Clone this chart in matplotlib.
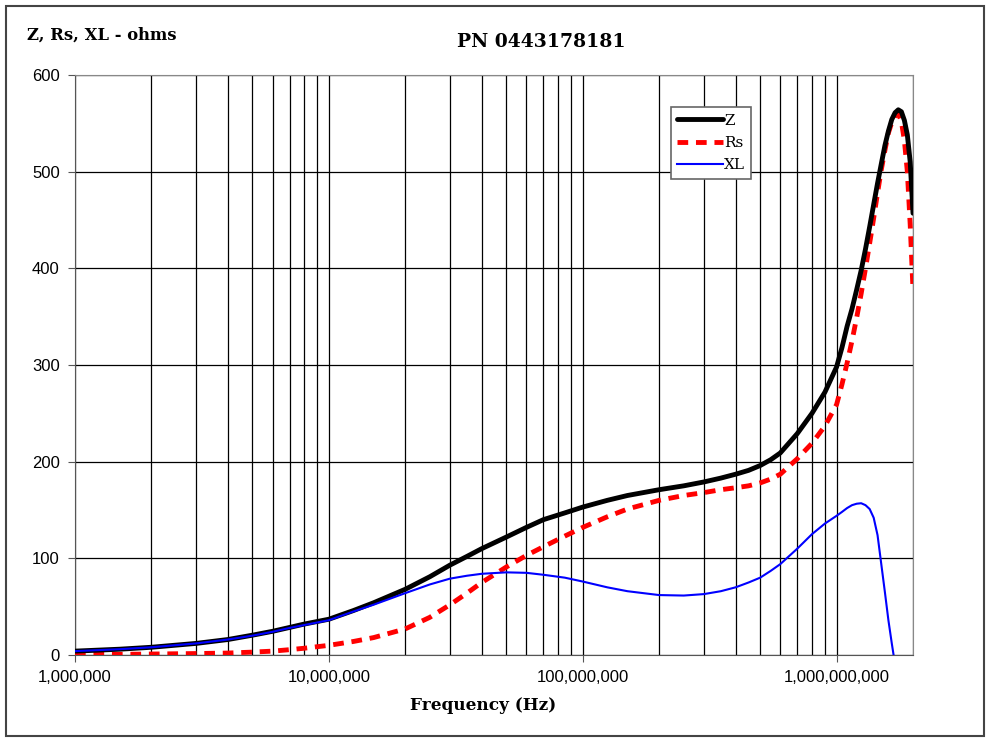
import numpy as np
import matplotlib.pyplot as plt
from matplotlib.patches import Rectangle
from matplotlib.ticker import FuncFormatter, LogLocator, MultipleLocator

# sweep frequencies (Hz) and measured impedance parts (ohms)
freq = [1e6, 1.5e6, 2e6, 3e6, 4e6, 5e6, 6e6, 7e6, 8e6, 1e7, 1.25e7, 1.5e7, 2e7,
        2.5e7, 3e7, 3.5e7, 4e7, 5e7, 6e7, 7e7, 8.5e7, 1e8, 1.25e8, 1.5e8, 2e8,
        2.5e8, 3e8, 3.5e8, 4e8, 4.5e8, 5e8, 5.5e8, 6e8, 7e8, 8e8, 9e8, 1e9,
        1.05e9, 1.1e9, 1.15e9, 1.2e9, 1.25e9, 1.3e9, 1.35e9, 1.4e9, 1.45e9,
        1.5e9, 1.55e9, 1.6e9, 1.65e9, 1.7e9, 1.75e9, 1.8e9, 1.85e9, 1.9e9,
        1.95e9, 2e9]
Z = [4, 6, 8, 12, 16, 20.5, 24.5, 28.5, 32, 37, 46, 54, 68,
     81, 93, 102, 110, 122, 132, 140, 147, 153, 160, 165, 171,
     175, 179, 183, 187, 191, 196, 202, 209, 229, 250, 272, 298,
     318, 340, 358, 378, 398, 420, 443, 466, 488,
     508, 527, 542, 554, 561, 564, 562, 553, 538,
     510, 457]
Rs = [0.5, 0.7, 1, 1.5, 2, 3, 4, 5.5, 7, 10, 14, 18, 27,
      39, 52, 64, 75, 91, 103, 112, 123, 132, 143, 151, 160,
      165, 168, 171, 173, 175, 178, 182, 187, 203, 219, 237, 259,
      280, 302, 325, 349, 374, 400, 426, 452, 478,
      502, 522, 540, 551, 558, 560, 552, 532, 500,
      445, 378]
XL = [4, 6, 8, 12, 16, 20, 24, 28, 31, 36, 45, 52, 64,
      73, 79, 82, 84, 85.5, 85, 83, 80, 76, 70, 66, 62,
      61.5, 63, 66, 70, 75, 80, 87, 94, 110, 125, 136, 144,
      148, 152, 155, 156.5, 157, 155, 151, 142, 124,
      94, 65, 36, 12, -10, -35, -60, -90, -130,
      -190, -255]

fig = plt.figure(figsize=(9.86, 7.42), dpi=100)
ax = fig.add_axes([75/986, 1 - 655/742, (913-75)/986, (655-75)/742])

ax.plot(freq, Z, color='black', lw=3.5, label='Z', solid_capstyle='round',
        solid_joinstyle='round', zorder=4)
ax.plot(freq, Rs, color='#ff0000', lw=3.5, ls=(0, (2.2, 1.6)), label='Rs', zorder=3)
ax.plot(freq, XL, color='#0000ff', lw=1.5, label='XL', solid_joinstyle='round', zorder=5)

ax.set_xscale('log')
ax.set_xlim(1e6, 2e9)
ax.set_ylim(0, 600)
ax.yaxis.set_major_locator(MultipleLocator(100))
ax.xaxis.set_major_locator(LogLocator(base=10, numticks=10))
ax.xaxis.set_minor_locator(LogLocator(base=10, subs=np.arange(2, 10), numticks=20))
ax.xaxis.set_major_formatter(FuncFormatter(lambda v, p: f"{v:,.0f}"))
ax.xaxis.set_minor_formatter(FuncFormatter(lambda v, p: ""))

ax.grid(True, which='major', axis='y', color='black', lw=0.9)
ax.grid(True, which='both', axis='x', color='black', lw=0.9)
ax.set_axisbelow(True)

for side in ['left', 'bottom']:
    ax.spines[side].set_color('#555555')
for side in ['top', 'right']:
    ax.spines[side].set_color('#888888')
ax.tick_params(axis='both', which='major', direction='out', length=5, color='#555555',
               labelsize=12, pad=6)
ax.tick_params(axis='x', which='minor', length=0)
for lbl in ax.get_xticklabels() + ax.get_yticklabels():
    lbl.set_family('Liberation Sans')

leg = ax.legend(loc='upper left', bbox_to_anchor=(0.711, 0.944), fancybox=False,
                framealpha=1, edgecolor='#666666', handlelength=3.0, handletextpad=0.1,
                borderpad=0.4, labelspacing=0.55, borderaxespad=0,
                prop={'family': 'DejaVu Serif', 'size': 11})
leg.get_frame().set_linewidth(1.2)

fig.text(27/986, 1 - 35/742, 'Z, Rs, XL - ohms', family='DejaVu Serif', weight='bold',
         fontsize=11.8, ha='left', va='center')
fig.text(541/986, 1 - 42/742, 'PN 0443178181', family='DejaVu Serif', weight='bold',
         fontsize=13.5, ha='center', va='center')
fig.text(483/986, 1 - 706/742, 'Frequency (Hz)', family='DejaVu Serif', weight='bold',
         fontsize=12.2, ha='center', va='center')

fig.patches.append(Rectangle((6/986, 1 - 736/742), 978/986, 730/742, transform=fig.transFigure,
                             fill=False, edgecolor='#444444', lw=1.5))

fig.savefig('out.png', dpi=100)
